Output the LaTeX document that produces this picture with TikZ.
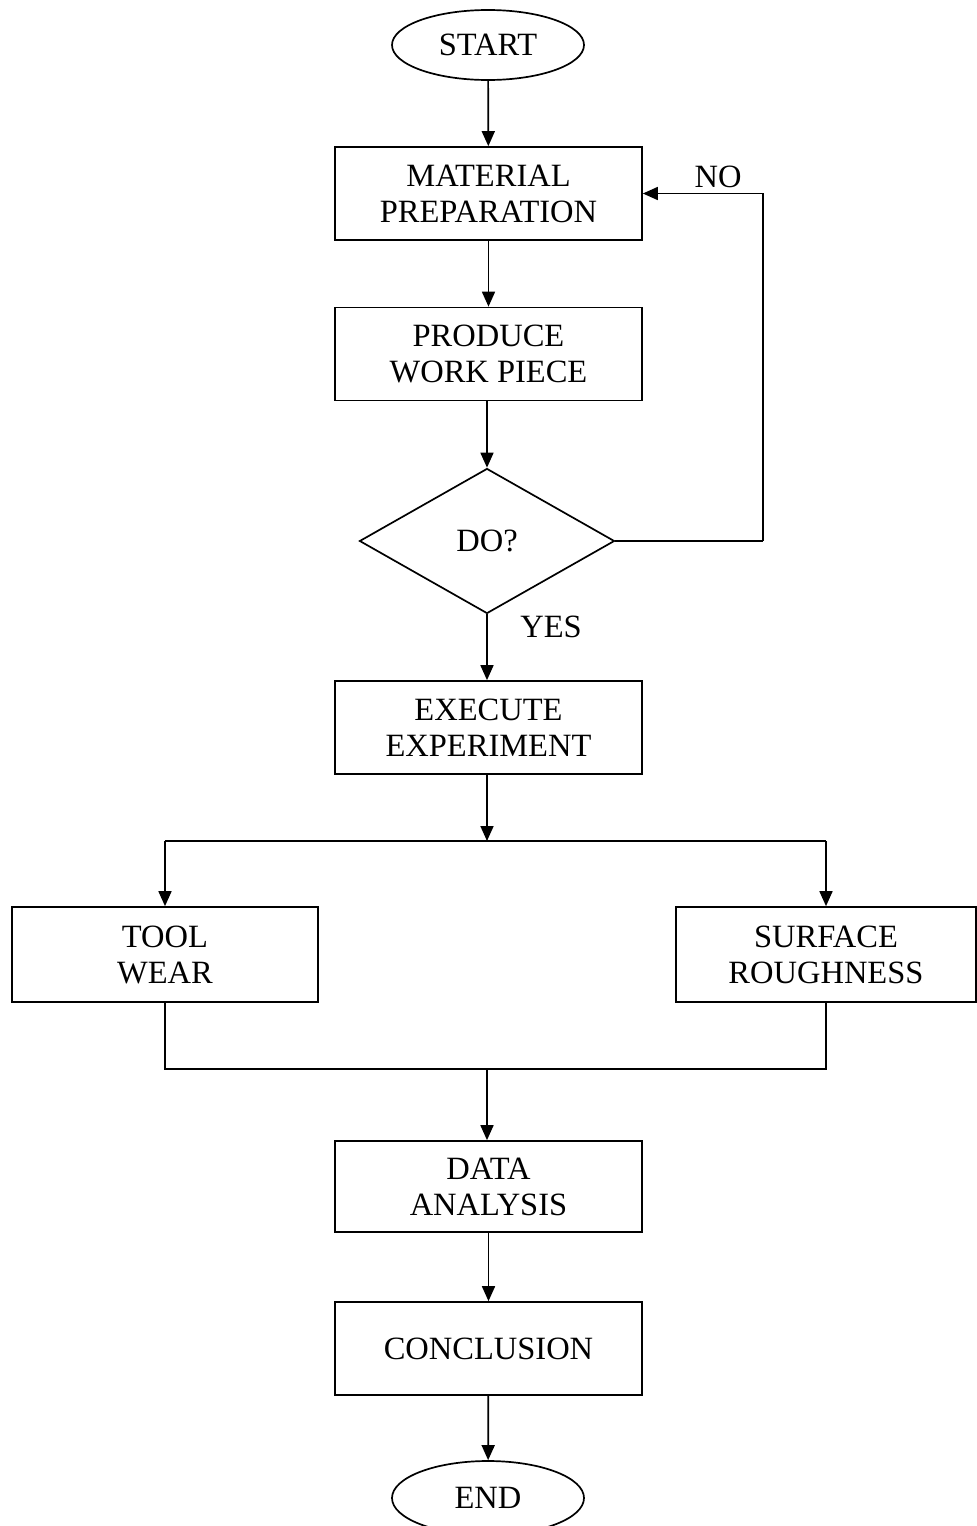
\documentclass[tikz,border=0pt]{standalone}
\usepackage{fontspec}
\setmainfont{Liberation Serif}
\usetikzlibrary{shapes.geometric,arrows.meta}
\begin{document}
\begin{tikzpicture}[x=1pt,y=-1pt,
  every node/.style={font=\fontsize{32.5}{36}\selectfont, align=center, inner sep=0pt},
  procbox/.style={draw, line width=1.7pt, minimum width=307pt, minimum height=93pt},
  term/.style={draw, ellipse, line width=1.7pt, minimum width=192pt, minimum height=70pt},
  decision/.style={draw, diamond, line width=1.7pt, aspect=1.76, minimum width=255pt, minimum height=145pt},
  line/.style={line width=1.7pt},
  arr/.style={line width=1.7pt, -{Triangle[length=15pt,width=13pt]}}]
\useasboundingbox (0,0) rectangle (977,1526);
\node[term] (start) at (488,45) {START};
\node[procbox] (mat) at (488.5,193.5) {MATERIAL\\PREPARATION};
\node[procbox] (prod) at (488.5,354) {PRODUCE\\WORK PIECE};
\node[decision] (do) at (487,541) {DO?};
\node[procbox] (exec) at (488.5,727.5) {EXECUTE\\EXPERIMENT};
\node[procbox, minimum width=306pt, minimum height=95pt] (tool) at (165,954.5) {TOOL\\WEAR};
\node[procbox, minimum width=300pt, minimum height=95pt] (surf) at (826,954.5) {SURFACE\\ROUGHNESS};
\node[procbox, minimum height=91pt] (data) at (488.5,1186.5) {DATA\\ANALYSIS};
\node[procbox] (concl) at (488.5,1348.5) {CONCLUSION};
\node[term, minimum height=74pt] (fin) at (488,1498) {END};
\node (no) at (718,177) {NO};
\node (yes) at (551,627) {YES};
\coordinate (nc) at (763,541);
\coordinate (j1) at (487,841);
\coordinate (j2) at (487,1069);
\draw[arr] (start) -- (mat);
\draw[arr] (mat) -- (prod);
\draw[arr] (prod.south -| do.north) -- (do.north);
\draw[line] (do.east) -- (nc);
\draw[arr] (nc) |- (mat.east);
\draw[arr] (do.south) -- (exec.north -| do.south);
\draw[arr] (exec.south -| j1) -- (j1);
\draw[line] (tool.north |- j1) -- (surf.north |- j1);
\draw[arr] (tool.north |- j1) -- (tool.north);
\draw[arr] (surf.north |- j1) -- (surf.north);
\draw[line] (tool.south) |- (j2) -| (surf.south);
\draw[arr] (j2) -- (data.north -| j2);
\draw[arr] (data) -- (concl);
\draw[arr] (concl) -- (fin);
\end{tikzpicture}
\end{document}
